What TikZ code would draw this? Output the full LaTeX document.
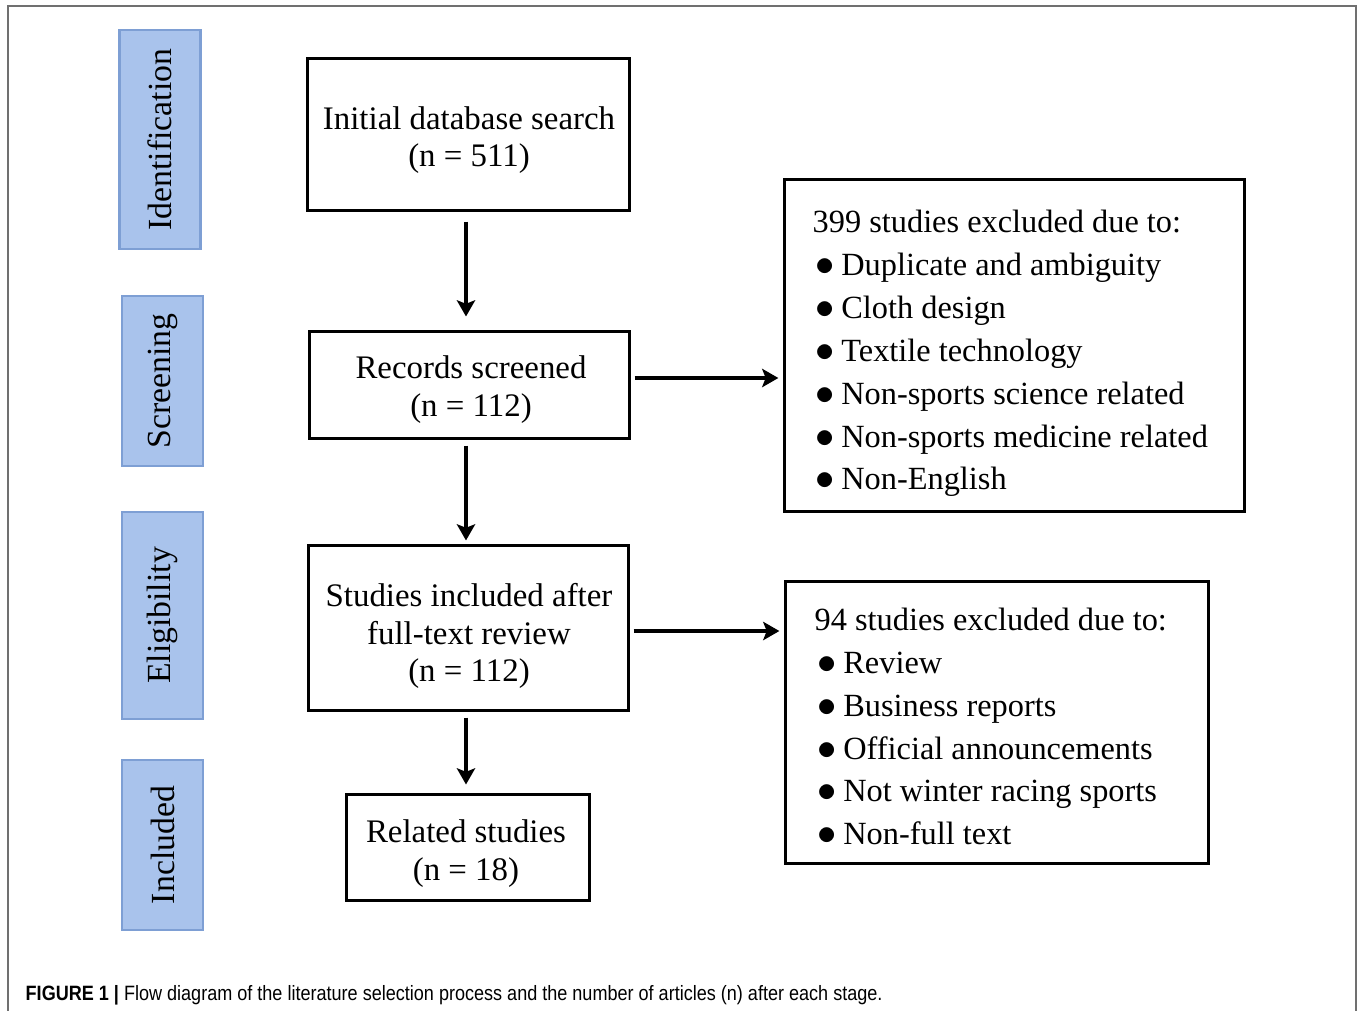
\documentclass[tikz,border=0pt]{standalone}
\usepackage{fontspec}
\usepackage{graphicx}
\setmainfont{Liberation Serif}
\newfontfamily\capfont[FakeStretch=0.87]{Liberation Sans}
\usetikzlibrary{arrows.meta}
\definecolor{stagefill}{HTML}{A9C3EC}
\definecolor{stageline}{HTML}{7E9FD4}
\definecolor{framegray}{HTML}{707070}
\newcommand{\bul}{\hspace{0.8pt}\scalebox{1.18}{$\bullet$}\hspace{1.9pt}}
\begin{document}
\begin{tikzpicture}[x=0.01cm,y=-0.01cm,
        stage/.style={draw=stageline, fill=stagefill, line width=0.8pt, rotate=90,
            inner sep=0pt, minimum height=0.81cm, font=\fontsize{9.6}{11}\selectfont},
        frame/.style={draw=black, line width=0.85pt, inner sep=0pt},
        boxtext/.style={align=center, inner sep=0pt, font=\fontsize{9.35}{10.6}\selectfont},
        extext/.style={anchor=west, align=left, inner sep=0pt, font=\fontsize{9.2}{12.2}\selectfont},
        flow/.style={-{Stealth[length=4.6pt,width=5.2pt,inset=1pt]}, line width=1pt}]
        \useasboundingbox (0,0) rectangle (1362,1011);
        \draw [framegray, line width=0.55pt] (8,1011) |- (1356,6) -- (1356,1011);
        % stages
        \node [stage, minimum width=2.19cm] (ident) at (160,139.5) {Identification};
        \node [stage, minimum width=1.70cm] (screen) at (162.5,381) {Screening};
        \node [stage, minimum width=2.07cm] (elig) at (162.5,615.5) {Eligibility};
        \node [stage, minimum width=1.70cm] (incl) at (162.5,845) {Included};
        % flow boxes
        \node [frame, minimum width=3.21cm, minimum height=1.51cm] (init) at (468.5,134.5) {};
        \node [boxtext] (init-t) at (469,140) {Initial database search\\(n = 511)};
        \node [frame, minimum width=3.19cm, minimum height=1.06cm] (rec) at (469.5,385) {};
        \node [boxtext] (rec-t) at (471,389.5) {Records screened\\(n = 112)};
        \node [frame, minimum width=3.19cm, minimum height=1.64cm] (full) at (468.5,628) {};
        \node [boxtext] (full-t) at (469,636) {Studies included after\\full-text review\\(n = 112)};
        \node [frame, minimum width=2.42cm, minimum height=1.05cm] (rel) at (468,847.5) {};
        \node [boxtext] (rel-t) at (466,853.5) {Related studies\\(n = 18)};
        % exclusion boxes
        \node [frame, minimum width=4.59cm, minimum height=3.31cm] (ex1) at (1014.5,345.5) {};
        \node [extext] (ex1-t) at (812,353.5)
            {399 studies excluded due to:\\
             \bul Duplicate and ambiguity\\
             \bul Cloth design\\
             \bul Textile technology\\
             \bul Non-sports science related\\
             \bul Non-sports medicine related\\
             \bul Non-English};
        \node [frame, minimum width=4.22cm, minimum height=2.81cm] (ex2) at (997,722.5) {};
        \node [extext] (ex2-t) at (814,726.5)
            {94 studies excluded due to:\\
             \bul Review\\
             \bul Business reports\\
             \bul Official announcements\\
             \bul Not winter racing sports\\
             \bul Non-full text};
        % arrows
        \draw [flow, shorten <=0.1cm, shorten >=0.14cm] ([xshift=-0.025cm]init.south) -- ([xshift=-0.025cm]init.south |- rec.north);
        \draw [flow, shorten <=0.06cm, shorten >=0.04cm] ([xshift=-0.035cm]rec.south) -- ([xshift=-0.035cm]rec.south |- full.north);
        \draw [flow, shorten <=0.06cm, shorten >=0.09cm] ([xshift=-0.025cm]full.south) -- ([xshift=-0.025cm]full.south |- rel.north);
        \draw [flow, shorten <=0.04cm, shorten >=0.05cm] ([yshift=0.07cm]rec.east) -- ([yshift=0.07cm]rec.east -| ex1.west);
        \draw [flow, shorten <=0.04cm, shorten >=0.05cm] ([yshift=-0.03cm]full.east) -- ([yshift=-0.03cm]full.east -| ex2.west);
        % caption
        \node [anchor=base west, inner sep=0pt, font=\capfont\fontsize{5.9}{7}\selectfont] (cap) at (25,1000)
            {\textbf{FIGURE 1 |} Flow diagram of the literature selection process and the number of articles (n) after each stage.};
\end{tikzpicture}
\end{document}
